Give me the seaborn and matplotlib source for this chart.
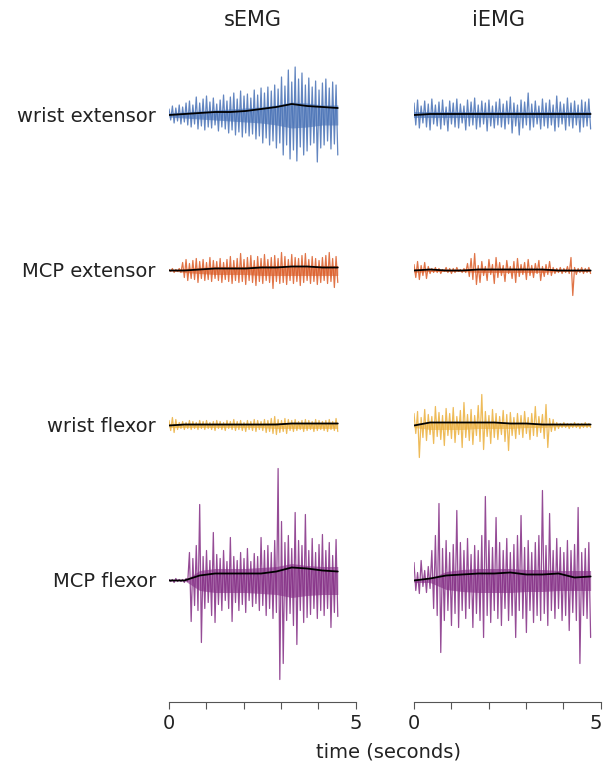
import numpy as np
import pandas as pd
import matplotlib
matplotlib.use("Agg")
import matplotlib.pyplot as plt
import matplotlib.transforms as mtransforms
import seaborn as sns

sns.set_style("white")
plt.rcParams['font.family'] = ['DejaVu Sans']

# ---------------- data (amplitudes, arbitrary units) -------------
methods = ["sEMG", "iEMG"]
muscles = ["wrist extensor", "MCP extensor", "wrist flexor", "MCP flexor"]
durations = [4.52, 4.73]          # seconds of recording shown (sEMG, iEMG)
tick_positions = [0, 1, 2, 3, 4, 5]
tick_labels = ["0", "", "", "", "", "5"]
x_label = "time (seconds)"

# sEMG wrist extensor
semg_wext_up = [6, 9, 7, 10, 8, 12, 14, 10, 18, 12, 16, 19, 13, 17, 11, 15, 20, 14,
                18, 22, 16, 24, 19, 21, 17, 25, 20, 27, 22, 28, 24, 30, 26, 38, 29, 45,
                33, 48, 36, 42, 30, 37, 28, 34, 25, 32, 36, 27, 33, 30]
semg_wext_lo = [-5, -8, -6, -9, -7, -10, -12, -9, -14, -11, -15, -12, -13, -10, -16, -12, -14, -18,
                -15, -20, -17, -22, -18, -21, -19, -24, -21, -28, -23, -30, -26, -33, -28, -40, -30, -44,
                -35, -46, -32, -40, -36, -30, -28, -47, -33, -30, -26, -34, -29, -40]
semg_wext_core = [2, 3, 4, 5, 6, 7, 8, 10, 13, 12, 10, 10]
semg_wext_env = [0, 1, 2, 3, 3, 4, 6, 8, 11, 9, 8, 7]

# iEMG wrist extensor
iemg_wext_up = [12, 15, 9, 14, 11, 16, 10, 13, 15, 8, 14, 12, 16, 11, 9, 15, 13, 17, 10, 14,
                12, 15, 9, 13, 16, 11, 14, 18, 12, 10, 15, 13, 22, 11, 14, 9, 16, 12, 15, 10,
                19, 13, 11, 17, 12, 14, 10, 15, 13, 16]
iemg_wext_lo = [-10, -13, -8, -12, -15, -9, -11, -14, -10, -16, -9, -12, -13, -8, -15, -11, -10, -14, -12, -9,
                -16, -11, -13, -10, -12, -14, -9, -18, -11, -20, -13, -10, -15, -12, -9, -14, -11, -13, -10, -16,
                -12, -9, -15, -11, -13, -10, -17, -12, -11, -14]
iemg_wext_core = [3, 3, 3, 3, 3, 3, 3, 3, 3, 3, 3, 3]
iemg_wext_env = [0, 1, 1, 1, 1, 1, 1, 1, 1, 1, 1, 1]

# sEMG MCP extensor
semg_mext_up = [1, 2, 1, 2, 8, 11, 7, 10, 12, 9, 11, 8, 13, 10, 9, 12, 8, 11, 14, 10,
                12, 17, 11, 13, 15, 10, 14, 12, 16, 11, 13, 15, 12, 18, 14, 11, 16, 13, 12, 15,
                17, 11, 14, 12, 10, 13, 15, 18, 12, 14]
semg_mext_lo = [-1, -2, -1, -2, -7, -10, -8, -9, -12, -8, -10, -9, -11, -8, -10, -12, -9, -11, -13, -10,
                -12, -11, -14, -10, -12, -15, -11, -13, -10, -12, -18, -11, -13, -12, -14, -10, -13, -11, -15, -12,
                -10, -13, -11, -14, -12, -10, -13, -11, -17, -12]
semg_mext_core = [0, 2, 3, 4, 4, 4, 5, 5, 5, 5, 5, 5]
semg_mext_env = [0, 0, 1, 2, 2, 2, 3, 3, 4, 4, 3, 3]

# iEMG MCP extensor
iemg_mext_up = [6, 9, 5, 8, 4, 2, 3, 2, 1, 3, 2, 2, 3, 1, 2,
                7, 12, 17, 5, 9, 4, 11, 6, 13, 8, 5, 10, 4, 9, 12, 6, 8, 11, 5, 7, 10, 4, 6, 9, 3,
                2, 3, 2, 4, 13, 3, 2, 3, 2, 3]
iemg_mext_lo = [-7, -9, -5, -8, -3, -2, -2, -3, -1, -2, -3, -2, -1, -2, -2,
                -6, -9, -14, -12, -5, -10, -4, -13, -7, -5, -11, -3, -8, -12, -6, -4, -9, -5, -7, -3, -10, -6, -4, -5, -3,
                -2, -3, -2, -3, -25, -4, -2, -3, -2, -3]
iemg_mext_core = [2, 1, 1, 1, 2, 2, 2, 2, 2, 1, 1, 1]
iemg_mext_env = [0, 1, 0, 0, 1, 1, 1, 1, 1, 0, 0, 0]

# sEMG wrist flexor
semg_wflx_up = [5, 8, 6, 3, 4, 3, 5, 4, 3, 5, 4, 5, 3, 4, 5, 4, 3, 5, 4, 6,
                4, 5, 3, 5, 4, 6, 5, 4, 6, 5, 7, 9, 6, 5, 7, 6, 5, 6, 4, 5,
                6, 5, 4, 6, 5, 4, 5, 6, 4, 7]
semg_wflx_lo = [-5, -7, -4, -3, -4, -3, -4, -3, -4, -3, -4, -3, -4, -5, -3, -4, -5, -3, -4, -5,
                -4, -5, -6, -4, -5, -6, -4, -5, -7, -6, -8, -9, -7, -6, -8, -5, -6, -5, -4, -6,
                -5, -4, -6, -5, -4, -5, -6, -4, -5, -6]
semg_wflx_core = [2, 2, 2, 2, 2, 2, 2, 3, 3, 3, 3, 3]
semg_wflx_env = [0, 1, 1, 1, 1, 1, 1, 1, 2, 2, 2, 2]

# iEMG wrist flexor
iemg_wflx_up = [12, 14, 8, 16, 11, 9, 19, 13, 10, 17, 12, 18, 9, 15, 23, 11, 16, 10, 20, 31,
                14, 10, 16, 12, 9, 15, 11, 13, 8, 12, 10, 14, 8, 12, 19, 9, 11, 21, 7, 6,
                3, 2, 3, 2, 2, 3, 2, 2, 3, 2]
iemg_wflx_lo = [-8, -32, -12, -15, -9, -18, -11, -14, -20, -10, -13, -17, -9, -22, -12, -15, -19, -10, -16, -24,
                -11, -18, -12, -14, -9, -16, -25, -10, -13, -9, -12, -8, -14, -10, -11, -7, -13, -22, -6, -5,
                -3, -2, -2, -3, -2, -2, -3, -2, -2, -2]
iemg_wflx_core = [2, 4, 4, 4, 3, 3, 3, 2, 2, 1, 1, 1]
iemg_wflx_env = [0, 3, 3, 3, 3, 3, 2, 2, 1, 1, 1, 1]

# sEMG MCP flexor
semg_mflx_up = [1, 1, 2, 1, 1, 2, 28, 22, 35, 76, 24, 30, 20, 48, 26, 22, 30, 19, 43, 24,
                20, 28, 22, 32, 19, 27, 24, 43, 30, 35, 28, 40, 112, 59, 38, 45, 32, 68, 40, 35,
                66, 30, 42, 28, 36, 46, 30, 38, 25, 41]
semg_mflx_lo = [-1, -2, -1, -1, -2, -1, -41, -25, -30, -62, -28, -22, -35, -42, -24, -30, -20, -28, -41, -22,
                -30, -24, -32, -20, -26, -23, -30, -25, -35, -28, -38, -32, -99, -83, -40, -33, -45, -64, -30, -42,
                -37, -34, -28, -38, -30, -35, -28, -47, -32, -36]
semg_mflx_core = [0, 0, 10, 12, 12, 12, 13, 14, 17, 15, 14, 14]
semg_mflx_env = [0, 0, 5, 7, 7, 7, 7, 9, 13, 12, 10, 9]

# iEMG MCP flexor
iemg_mflx_up = [18, 8, 20, 10, 14, 30, 45, 77, 32, 40, 28, 36, 70, 38, 30, 42, 26, 35, 30, 45,
                84, 40, 33, 63, 38, 30, 42, 28, 36, 45, 65, 33, 40, 28, 38, 45, 90, 35, 67, 30,
                42, 33, 28, 40, 30, 36, 73, 28, 32, 38]
iemg_mflx_lo = [-10, -13, -6, -12, -8, -28, -35, -72, -40, -30, -45, -33, -47, -30, -38, -28, -47, -33, -40, -57,
                -35, -42, -30, -38, -45, -28, -40, -35, -57, -30, -38, -52, -30, -42, -35, -40, -33, -45, -30, -38,
                -28, -40, -35, -50, -32, -40, -83, -35, -38, -57]
iemg_mflx_core = [2, 2, 9, 11, 12, 12, 12, 11, 11, 10, 10, 10]
iemg_mflx_env = [0, 2, 5, 6, 7, 7, 8, 6, 6, 7, 3, 4]

traces = {
    ("sEMG", "wrist extensor"): (semg_wext_up, semg_wext_lo, semg_wext_core, semg_wext_env),
    ("iEMG", "wrist extensor"): (iemg_wext_up, iemg_wext_lo, iemg_wext_core, iemg_wext_env),
    ("sEMG", "MCP extensor"): (semg_mext_up, semg_mext_lo, semg_mext_core, semg_mext_env),
    ("iEMG", "MCP extensor"): (iemg_mext_up, iemg_mext_lo, iemg_mext_core, iemg_mext_env),
    ("sEMG", "wrist flexor"): (semg_wflx_up, semg_wflx_lo, semg_wflx_core, semg_wflx_env),
    ("iEMG", "wrist flexor"): (iemg_wflx_up, iemg_wflx_lo, iemg_wflx_core, iemg_wflx_env),
    ("sEMG", "MCP flexor"): (semg_mflx_up, semg_mflx_lo, semg_mflx_core, semg_mflx_env),
    ("iEMG", "MCP flexor"): (iemg_mflx_up, iemg_mflx_lo, iemg_mflx_core, iemg_mflx_env),
}

# ---------------- styling / layout ----------------
colors = {"wrist extensor": "#4670B5", "MCP extensor": "#DB5C27",
          "wrist flexor": "#EBAF3C", "MCP flexor": "#832C84"}
W, H = 603, 767
row_baseline_px = [115, 270.5, 425.5, 580.5]
axis_px_y = 701.7
top_px = 30
col_left_px = [169, 414]
col_width_px = 186.7
text_color = "#222222"

fig = plt.figure(figsize=(W / 100, H / 100), dpi=100)
fig.patch.set_facecolor("white")

for ci, method in enumerate(methods):
    ax = fig.add_axes([col_left_px[ci] / W, 1 - axis_px_y / H,
                       col_width_px / W, (axis_px_y - top_px) / H])
    T = durations[ci]
    for ri, muscle in enumerate(muscles):
        up, lo, core, env = traces[(method, muscle)]
        offset = axis_px_y - row_baseline_px[ri]
        c = colors[muscle]
        # dense central band of the signal
        tc = np.linspace(0, T, len(core))
        core_a = np.asarray(core, float)
        ax.fill_between(tc, offset - core_a, offset + core_a, color=c, lw=0, alpha=0.6)
        # spikes
        sig = [v for pair in zip(up, lo) for v in pair]
        df = pd.DataFrame({"t": np.linspace(0, T, len(sig)),
                           "y": np.asarray(sig, float) + offset})
        sns.lineplot(data=df, x="t", y="y", ax=ax, color=c,
                     lw=0.9, estimator=None, sort=False, alpha=0.85)
        # smoothed envelope
        de = pd.DataFrame({"t": np.linspace(0, T, len(env)),
                           "y": np.asarray(env, float) + offset})
        sns.lineplot(data=de, x="t", y="y", ax=ax, color="black",
                     lw=1.3, estimator=None, sort=False)
    ax.set_xlim(0, 5)
    ax.set_ylim(0, axis_px_y - top_px)
    ax.set_xticks(tick_positions)
    ax.set_xticklabels(tick_labels, fontsize=14, color=text_color)
    ax.tick_params(axis="x", bottom=True, direction="out", length=5, width=0.8,
                   color="#555555", pad=4)
    ax.set_yticks([])
    ax.set_xlabel("")
    ax.set_ylabel("")
    for s in ["top", "left", "right"]:
        ax.spines[s].set_visible(False)
    ax.spines["bottom"].set_color("#555555")
    ax.spines["bottom"].set_linewidth(0.8)
    ax.patch.set_alpha(0)
    if ci == 1:
        # keep the last tick label inside the canvas
        last = ax.get_xticklabels()[-1]
        last.set_transform(last.get_transform() +
                           mtransforms.ScaledTranslation(-5 / 100, 0, fig.dpi_scale_trans))

# column titles
fig.text(253 / W, 1 - 20 / H, "sEMG", ha="center", va="center", fontsize=15, color=text_color)
fig.text(499 / W, 1 - 20 / H, "iEMG", ha="center", va="center", fontsize=15, color=text_color)

# row labels
for ri, muscle in enumerate(muscles):
    fig.text(156 / W, 1 - (row_baseline_px[ri] + 1) / H, muscle, ha="right", va="center",
             fontsize=14, color=text_color)

fig.text(388 / W, 1 - 752 / H, x_label, ha="center", va="center", fontsize=14, color=text_color)

fig.savefig("out.png", dpi=100, facecolor="white")
